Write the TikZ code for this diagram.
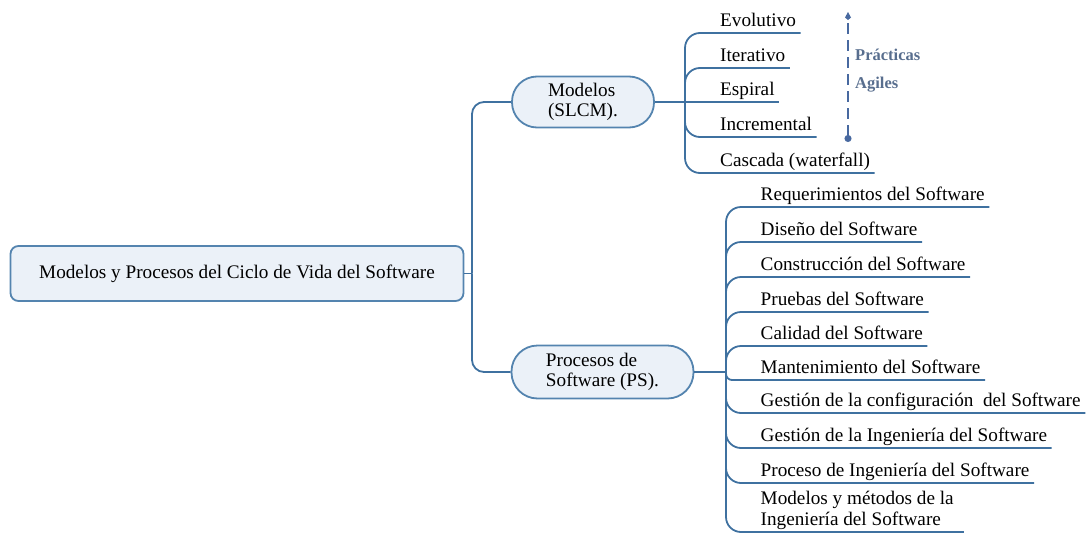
\documentclass[tikz,border=0pt]{standalone}
\usepackage{fontspec}
\setmainfont{Liberation Serif}
\usetikzlibrary{arrows.meta}
\definecolor{linkblue}{RGB}{63,113,160}
\definecolor{boxedge}{RGB}{84,132,175}
\definecolor{boxfill}{RGB}{235,241,248}
\definecolor{agile}{RGB}{88,110,142}
\definecolor{dashblue}{RGB}{72,105,160}

\begin{document}
\begin{tikzpicture}[x=1pt,y=-1pt,
  font=\fontsize{19.2}{20.5}\selectfont,
  link/.style={draw=linkblue, line width=1.8pt},
  rootbox/.style={draw=boxedge, fill=boxfill, line width=1.8pt, rounded corners=8pt,
    minimum width=453pt, minimum height=55pt, inner sep=0pt},
  topic/.style={draw=boxedge, fill=boxfill, line width=1.8pt, align=left, inner sep=0pt},
  leaf/.style={anchor=south west, inner xsep=4.5pt, inner ysep=6.5pt, text depth=0pt, align=left},
  agilelbl/.style={anchor=base west, inner sep=0pt, text=agile,
    font=\fontsize{16.5}{18}\selectfont\bfseries},
]
\useasboundingbox (0,0) rectangle (1089,538);

% central topic and the two main branches
\node[rootbox] (root) at (237,273.5) {Modelos y Procesos del Ciclo de Vida del Software};
\node[topic, rounded corners=25pt, minimum width=142pt, minimum height=51pt] (mod) at (583,102) {Modelos\\(SLCM).};
\node[topic, rounded corners=26pt, minimum width=182pt, minimum height=53pt] (proc) at (602.5,372) {Procesos de\\Software (PS).};

% life-cycle models
\node[leaf] (evo) at (715.5,33)  {Evolutivo};
\node[leaf] (ite) at (715.5,68)  {Iterativo};
\node[leaf] (esp) at (715.5,102) {Espiral};
\node[leaf] (inc) at (715.5,137) {Incremental};
\node[leaf] (cas) at (715.5,173) {Cascada (waterfall)};

% software processes
\node[leaf] (req)  at (756,207) {Requerimientos del Software};
\node[leaf] (dis)  at (756,242) {Diseño del Software};
\node[leaf] (con)  at (756,277) {Construcción del Software};
\node[leaf] (pru)  at (756,312) {Pruebas del Software};
\node[leaf] (cal)  at (756,346) {Calidad del Software};
\node[leaf] (man)  at (756,380) {Mantenimiento del Software};
\node[leaf] (gcf)  at (756,413) {Gestión de la configuración~ del Software};
\node[leaf] (gin)  at (756,448) {Gestión de la Ingeniería del Software};
\node[leaf] (pin)  at (756,483) {Proceso de Ingeniería del Software};
\node[leaf, inner xsep=10pt, anchor=south west] (mym) at (750.5,532) {Modelos y métodos de la\\Ingeniería del Software};

% root connectors
\coordinate (j0) at (472,273.5);
\draw[link] (root.east) -- (j0);
\draw[link, rounded corners=12pt] (j0) |- (mod.west);
\draw[link, rounded corners=12pt] (j0) |- (proc.west);

% model branches
\coordinate (j1) at (685,102);
\draw[link] (mod.east) -- (esp.south east);
\foreach \n in {evo,ite,inc,cas}
  \draw[link, rounded corners=15pt] (j1) |- (\n.south east);

% process branches
\coordinate (j2) at (726,372);
\draw[link] (proc.east) -- (j2);
\foreach \n in {req,dis,con,pru,cal,gcf,gin,pin,mym}
  \draw[link, rounded corners=15pt] (j2) |- (\n.south east);
\draw[link, rounded corners=6pt] (j2) |- (man.south east);

% agile practices marker
\coordinate (agtop) at (848,12);
\coordinate (agbot) at (848,142);
\draw[dashblue, line width=1.3pt, dash pattern=on 11pt off 6pt,
  {Circle[length=7pt]}-{Kite[length=8pt,width=6pt,inset=2.5pt]}] (agbot) -- (agtop);
\node[agilelbl] (prac) at (855,60.5) {Prácticas};
\node[agilelbl] (agi) at (855,88) {Agiles};
\end{tikzpicture}
\end{document}
